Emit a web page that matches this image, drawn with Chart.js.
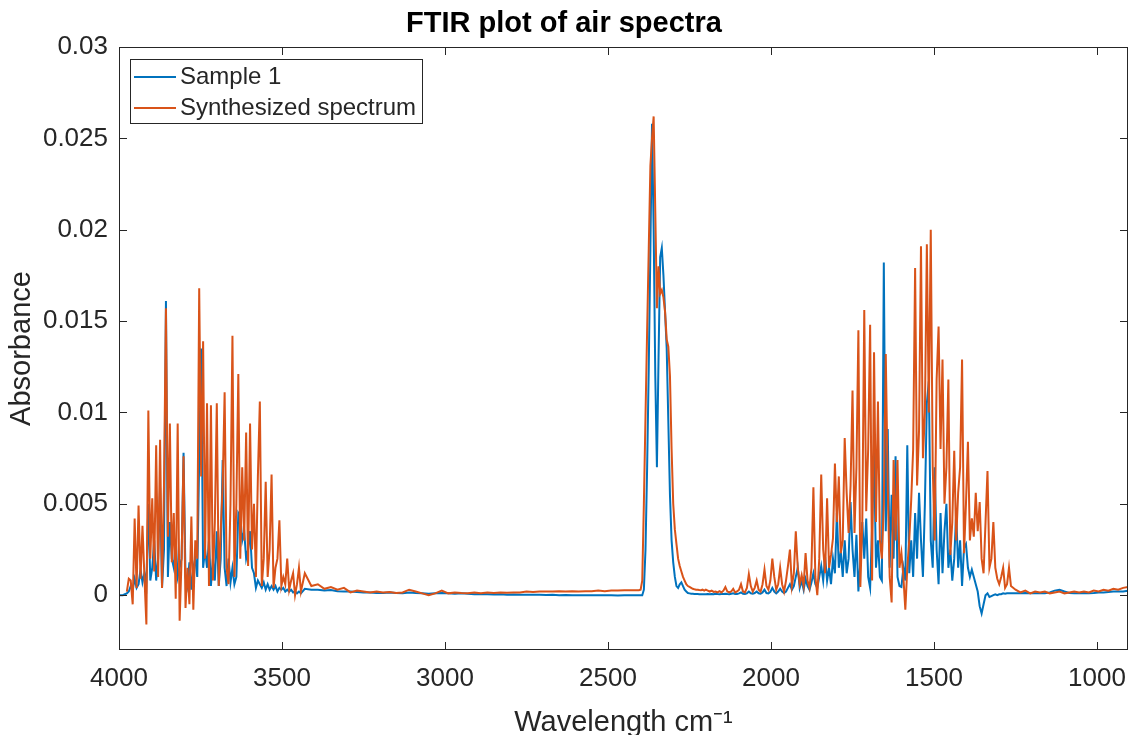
<!DOCTYPE html>
<html>
<head>
<meta charset="utf-8">
<title>FTIR plot of air spectra</title>
<script src="https://cdn.jsdelivr.net/npm/chart.js@4.4.1/dist/chart.umd.min.js"></script>
<style>
  html, body { margin: 0; padding: 0; background: #fff; }
  #wrap { width: 1129px; height: 735px; }
</style>
</head>
<body>
<div id="wrap"><canvas id="ftir" width="1129" height="735"></canvas></div>
<script>
// Spectra in milli-absorbance units, one list per band.
// Each band starts at a wavenumber and steps down by a fixed spacing (cm-1).

// H2O stretch band
const band1Start = 4000, band1Step = 6;
const band1Sample = [
  0.0, 0.0, 0.0, 0.05, 0.1, 0.2, 0.5, 0.3, 0.9, 0.4,
  0.6, 1.4, 0.7, 1.2, 0.6, 5.0, 0.8, 1.5, 3.0, 0.8,
  2.0, 5.9, 0.4, 2.5, 16.1, 1.0, 4.0, 2.0, 1.5, 3.0,
  1.0, 1.5, 2.0, 7.8, 1.0, 0.5, 1.8, 0.3, 1.5, 2.0,
  1.0, 7.4, 13.5, 1.5, 2.5, 1.5, 3.0, 0.5, 2.0, 0.8,
  3.5, 0.5, 2.0, 7.4, 1.5, 0.5, 2.0, 0.7, 1.5, 0.6,
  1.0, 4.5, 4.3, 3.0, 3.5, 2.0, 2.5, 3.5, 1.5, 1.2,
  0.4, 0.8, 0.6, 0.4, 0.7, 0.3, 0.6, 0.3, 0.5, 0.3,
  0.5, 0.2, 0.4, 0.3, 0.4, 0.2, 0.3, 0.2, 0.3, 0.15,
  0.2, 0.1, 0.2, 0.1
];
const band1Synth = [
  null, null, null, null, 0.2, 0.9, 0.8, -0.5, 4.2, 0.4,
  4.9, 0.9, 3.8, 1.0, -1.6, 10.1, 2.0, 5.3, 1.3, 8.2,
  1.0, 8.5, 0.4, 6.0, 15.7, 3.2, 9.4, 1.8, 4.5, -0.2,
  9.4, -1.4, 2.0, 7.6, -0.7, 1.5, -0.5, 4.3, -0.8, 3.0,
  2.0, 16.8, 6.5, 13.9, 2.0, 10.5, 0.5, 10.4, 0.8, 4.0,
  10.5, 0.5, 3.5, 6.0, 11.1, 1.5, 0.6, 5.0, 14.2, 1.0,
  5.0, 12.1, 2.0, 7.0, 3.0, 8.9, 1.6, 9.4, 2.5, 5.0,
  1.0, 6.5, 10.6, 0.5, 2.0, 6.2, 1.0, 2.5, 6.6, 0.4,
  1.5, 2.0, 4.1, 0.5, 1.0, 0.6, 2.0, 0.3, 0.8, 1.2,
  0.0, 0.6, 1.5, 0.2
];

// quiet region between the bands
const gapStart = 3430, gapStep = 20;
const gapSample = [
  0.35, 0.3, 0.3, 0.25, 0.28, 0.22, 0.2, 0.2, 0.18, 0.15,
  0.15, 0.12, 0.12, 0.15, 0.12, 0.1, 0.15, 0.12, 0.1, 0.08,
  0.1, 0.12, 0.1, 0.08, 0.1, 0.08, 0.05, 0.06, 0.05, 0.04,
  0.05, 0.03, 0.04, 0.02, 0.03, 0.02, 0.02, 0.01, 0.02, 0.0,
  0.01, 0.0, 0.0, -0.01, 0.0, -0.01, 0.0, 0.0, -0.02, 0.0,
  0.0
];
const gapSynth = [
  1.2, 0.5, 0.6, 0.35, 0.45, 0.3, 0.4, 0.15, 0.25, 0.2,
  0.15, 0.2, 0.15, 0.18, 0.12, 0.15, 0.3, 0.2, 0.1, 0.0,
  0.1, 0.25, 0.1, 0.15, 0.12, 0.1, 0.15, 0.1, 0.15, 0.12,
  0.15, 0.13, 0.15, 0.15, 0.2, 0.18, 0.2, 0.2, 0.2, 0.22,
  0.2, 0.22, 0.2, 0.22, 0.22, 0.25, 0.22, 0.25, 0.25, 0.27,
  0.27
];

// CO2 asymmetric stretch
const co2Start = 2410, co2Step = 5;
const co2Sample = [
  0.0, 0.0, 0.0, 0.0, 0.3, 2.5, 7.0, 12.5, 19.0, 25.8,
  20.0, 12.0, 7.0, 13.0, 18.5, 19.0, 17.5, 15.5, 13.5, 9.5,
  5.5, 3.0, 1.8, 1.0, 0.5, 0.4, 0.6, 0.7, 0.5, 0.3,
  0.2, 0.12, 0.1, 0.08, 0.08, 0.07, 0.06, 0.06, 0.05, 0.05,
  0.05, 0.05
];
const co2Synth = [
  0.27, 0.27, 0.3, 0.8, 5.0, 9.8, 14.5, 19.0, 23.5, 25.0,
  26.2, 21.0, 15.7, 18.0, 16.5, 16.7, 16.3, 15.5, 14.0, 13.6,
  12.0, 8.0, 5.0, 3.6, 2.8, 2.0, 1.6, 1.3, 1.0, 0.8,
  0.6, 0.5, 0.45, 0.4, 0.35, 0.32, 0.3, 0.3, 0.28, 0.27,
  0.3, 0.25
];

// H2O bending band
const band2Start = 2200, band2Step = 6;
const band2Sample = [
  0.05, 0.07, 0.05, 0.06, 0.05, 0.08, 0.06, 0.05, 0.07, 0.06,
  0.08, 0.06, 0.05, 0.08, 0.1, 0.07, 0.06, 0.1, 0.15, 0.08,
  0.07, 0.1, 0.2, 0.1, 0.08, 0.12, 0.2, 0.1, 0.08, 0.15,
  0.3, 0.12, 0.1, 0.18, 0.4, 0.2, 0.1, 0.2, 0.35, 0.2,
  0.12, 0.2, 0.4, 0.6, 0.3, 0.5, 1.0, 1.5, 0.4, 0.8,
  0.3, 0.9, 0.5, 0.3, 0.7, 1.2, 0.6, 0.4, 1.0, 1.6,
  0.8, 2.1, 0.8, 1.5, 0.6, 2.0, 1.2, 4.5, 1.5, 2.4,
  1.0, 3.0, 1.2, 2.0, 5.1, 2.5, 1.0, 3.3, 0.2, 1.8,
  4.0, 2.0, 4.2, 1.0, 0.4, 3.7, 8.0, 1.5, 3.0, 1.0,
  0.8, 18.2, 3.5, 9.1, 1.5, 5.5, 2.0, 7.6, 1.0, 0.5,
  0.45, 1.5, 0.8, 8.2, 1.2, 3.0, 1.0, 4.5, 2.0, 5.6,
  3.0, 1.0, 5.0, 10.5, 11.7, 3.0, 1.5, 7.0, 2.5, 0.6,
  4.5, 1.2, 3.5, 5.0, 1.5, 2.5, 0.8, 2.0, 4.5, 1.5,
  3.0, 0.5, 2.6, 2.8, 1.5, 1.0, 1.4, 1.0, 0.6, 0.2,
  -0.6, -1.0, -0.5, 0.0, 0.1, -0.1, -0.05, 0.0, 0.05, 0.0,
  0.05, 0.05, 0.1, 0.08, 0.1, 0.1, 0.1
];
const band2Synth = [
  0.3, 0.25, 0.2, 0.25, 0.18, 0.2, 0.15, 0.22, 0.15, 0.25,
  0.45, 0.2, 0.15, 0.2, 0.35, 0.15, 0.2, 0.3, 0.6, 0.2,
  0.15, 0.4, 1.15, 0.5, 0.2, 0.4, 0.8, 0.3, 0.2, 0.6,
  1.4, 0.5, 0.3, 0.8, 2.0, 1.0, 0.3, 0.6, 1.5, 0.6,
  0.2, 0.8, 1.6, 2.5, 0.5, 1.2, 3.5, 1.5, 0.6, 1.1,
  0.5, 2.3, 0.8, 0.4, 1.5, 5.9, 1.0, 0.0, 2.0, 6.6,
  2.5, 1.2, 5.3, 1.5, 2.2, 3.1, 7.2, 4.0, 6.5, 2.3,
  3.0, 8.6, 5.6, 3.4, 6.0, 11.2, 3.4, 7.0, 14.5, 0.45,
  4.0, 15.6, 4.6, 8.0, 14.8, 0.8, 13.3, 4.0, 10.6, 3.0,
  2.0, 5.0, 13.2, 6.0, 1.0, -0.4, 7.4, 3.0, 7.4, 1.5,
  2.3, 1.0, -0.8, 1.5, 3.0, 5.2, 8.0, 17.9, 6.0, 9.0,
  19.1, 7.5, 10.0, 19.2, 10.0, 20.0, 7.0, 3.0, 11.8, 14.7,
  8.0, 12.9, 5.0, 7.0, 11.8, 2.2, 4.0, 7.9, 3.0, 5.6,
  7.0, 12.9, 2.3, 5.0, 8.4, 3.0, 4.2, 3.2, 5.6, 3.5,
  5.1, 2.0, 1.2, 4.0, 6.8, 1.5, 2.0, 4.0, 1.5, 0.9,
  0.6, 1.0, 1.5, 0.4, 0.6, 1.5, 0.5
];

// low wavenumber tail
const tailStart = 1250, tailStep = 15;
const tailSample = [
  0.1, 0.1, 0.12, 0.1, 0.1, 0.12, 0.1, 0.15, 0.25, 0.3,
  0.2, 0.12, 0.1, 0.1, 0.12, 0.1, 0.12, 0.15, 0.15, 0.18,
  0.2, 0.2, 0.2, 0.25
];
const tailSynth = [
  0.3, 0.15, 0.25, 0.1, 0.2, 0.15, 0.2, 0.1, 0.15, 0.2,
  0.1, 0.15, 0.2, 0.15, 0.2, 0.15, 0.25, 0.2, 0.3, 0.25,
  0.35, 0.3, 0.4, 0.45
];

const xTicks = [4000, 3500, 3000, 2500, 2000, 1500, 1000];
const yTicks = [0, 0.005, 0.01, 0.015, 0.02, 0.025, 0.03];
const seriesNames = ["Sample 1", "Synthesized spectrum"];
const seriesColors = ["#0072BD", "#D95319"];

function toPoints(start, step, values) {
  const pts = [];
  values.forEach((v, i) => {
    if (v !== null) pts.push({ x: start - i * step, y: v / 1000 });
  });
  return pts;
}

const sampleData = [].concat(
  toPoints(band1Start, band1Step, band1Sample),
  toPoints(gapStart, gapStep, gapSample),
  toPoints(co2Start, co2Step, co2Sample),
  toPoints(band2Start, band2Step, band2Sample),
  toPoints(tailStart, tailStep, tailSample)
);
const synthData = [].concat(
  toPoints(band1Start, band1Step, band1Synth),
  toPoints(gapStart, gapStep, gapSynth),
  toPoints(co2Start, co2Step, co2Synth),
  toPoints(band2Start, band2Step, band2Synth),
  toPoints(tailStart, tailStep, tailSynth)
);

const FONT = "'Liberation Sans', Arial, Helvetica, sans-serif";
const INK = "#262626";
Chart.defaults.font.family = FONT;
Chart.defaults.color = INK;

// MATLAB-like frame: box, inward ticks on all four sides, boxed legend
const axesBox = {
  id: "axesBox",
  afterDraw(chart) {
    const { ctx, chartArea: a, scales } = chart;
    const tick = 8;
    ctx.save();
    ctx.strokeStyle = INK;
    ctx.lineWidth = 1;
    ctx.strokeRect(a.left + 0.5, a.top + 0.5, a.right - a.left - 1, a.bottom - a.top - 1);
    ctx.beginPath();
    xTicks.forEach(v => {
      const x = Math.round(scales.x.getPixelForValue(v)) + 0.5;
      ctx.moveTo(x, a.bottom); ctx.lineTo(x, a.bottom - tick);
      ctx.moveTo(x, a.top); ctx.lineTo(x, a.top + tick);
    });
    yTicks.forEach(v => {
      const y = Math.round(scales.y.getPixelForValue(v)) + 0.5;
      ctx.moveTo(a.left, y); ctx.lineTo(a.left + tick, y);
      ctx.moveTo(a.right, y); ctx.lineTo(a.right - tick, y);
    });
    ctx.stroke();

    // legend
    const lx = a.left + 11, ly = a.top + 12, lw = 292, lh = 64;
    ctx.fillStyle = "#fff";
    ctx.fillRect(lx, ly, lw, lh);
    ctx.strokeStyle = INK;
    ctx.strokeRect(lx + 0.5, ly + 0.5, lw, lh);
    ctx.font = "24px " + FONT;
    ctx.textBaseline = "middle";
    chart.data.datasets.forEach((ds, i) => {
      const y = ly + 18 + i * 31;
      ctx.strokeStyle = ds.borderColor;
      ctx.lineWidth = 2;
      ctx.beginPath();
      ctx.moveTo(lx + 4, y); ctx.lineTo(lx + 46, y);
      ctx.stroke();
      ctx.fillStyle = INK;
      ctx.fillText(ds.label, lx + 50, y);
    });
    ctx.restore();
  }
};

new Chart(document.getElementById("ftir"), {
  type: "line",
  data: {
    datasets: [
      {
        label: seriesNames[0],
        data: sampleData,
        borderColor: seriesColors[0],
        borderWidth: 2,
        pointRadius: 0,
        tension: 0,
        order: 1
      },
      {
        label: seriesNames[1],
        data: synthData,
        borderColor: seriesColors[1],
        borderWidth: 2,
        pointRadius: 0,
        tension: 0,
        order: 0
      }
    ]
  },
  options: {
    responsive: false,
    animation: false,
    devicePixelRatio: 1,
    layout: { padding: { right: 1 } },
    plugins: {
      legend: { display: false },
      tooltip: { enabled: false },
      title: {
        display: true,
        text: "FTIR plot of air spectra",
        color: "#000",
        font: { size: 29, weight: "bold" },
        padding: { top: 6.5, bottom: 5.7 }
      }
    },
    scales: {
      x: {
        type: "linear",
        reverse: true,
        min: 905,
        max: 4000,
        afterBuildTicks: s => { s.ticks = xTicks.map(v => ({ value: v })); },
        afterFit: s => { s.height = 85; s.paddingLeft = 0; s.paddingRight = 0; },
        grid: { display: false, drawTicks: false },
        border: { display: false },
        ticks: {
          font: { size: 26 },
          padding: 13,
          maxRotation: 0,
          callback: v => String(v)
        },
        title: {
          display: true,
          text: "Wavelength cm\u207B\u00B9",
          font: { size: 29, lineHeight: 1 },
          padding: { top: 0, bottom: -2 }
        }
      },
      y: {
        min: -0.003,
        max: 0.03,
        afterBuildTicks: s => { s.ticks = yTicks.map(v => ({ value: v })); },
        afterFit: s => { s.width = 119; s.paddingTop = 0; s.paddingBottom = 0; },
        grid: { display: false, drawTicks: false },
        border: { display: false },
        ticks: {
          font: { size: 26 },
          padding: 11,
          callback: v => String(v)
        },
        title: {
          display: true,
          text: "Absorbance",
          font: { size: 29, lineHeight: 1 },
          padding: { top: 7.5, bottom: 0 }
        }
      }
    }
  },
  plugins: [axesBox]
});
</script>
</body>
</html>
